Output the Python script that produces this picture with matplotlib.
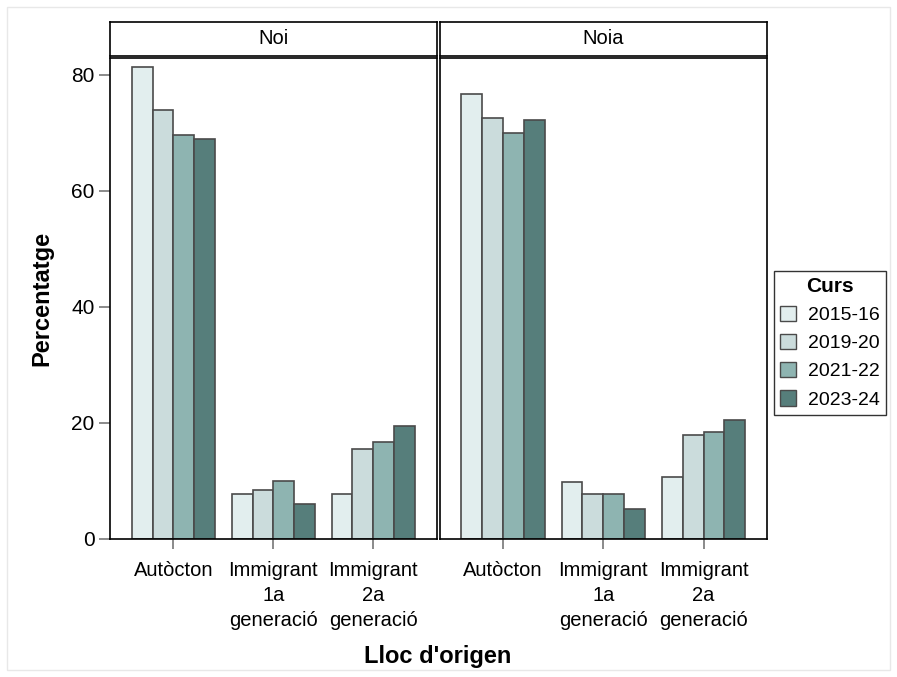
import numpy as np
import matplotlib
matplotlib.use("Agg")
import matplotlib.pyplot as plt
from matplotlib.patches import Patch, Rectangle

plt.rcParams['font.family'] = ['Liberation Sans', 'DejaVu Sans']

# dades
origens = ["Autòcton", "Immigrant\n1a\ngeneració", "Immigrant\n2a\ngeneració"]
cursos = ["2015-16", "2019-20", "2021-22", "2023-24"]
colors = ["#e2eeee", "#cbdcdc", "#8eb4b1", "#567e7b"]

noi = {
    "2015-16": [81.3, 7.7, 7.7],
    "2019-20": [73.9, 8.5, 15.5],
    "2021-22": [69.6, 10.0, 16.8],
    "2023-24": [69.0, 6.1, 19.4],
}
noia = {
    "2015-16": [76.7, 9.8, 10.6],
    "2019-20": [72.6, 7.8, 18.0],
    "2021-22": [69.9, 7.8, 18.4],
    "2023-24": [72.2, 5.1, 20.5],
}

W, H = 897, 677
fig = plt.figure(figsize=(W / 100, H / 100), dpi=100)

# marc gris clar de tota la figura
fig.patches.append(Rectangle((7 / W, 7 / H), (W - 14) / W, (H - 14) / H,
                             transform=fig.transFigure, fill=False,
                             edgecolor="#e8e8e8", linewidth=1))

panels = [("Noi", noi, 110, 436.5), ("Noia", noia, 439.5, 767)]
top, bottom = 58, 539
strip_top, strip_bot = 22, 56
bw = 0.2075
x = np.arange(1, len(origens) + 1)

for k, (titol, dades, px0, px1) in enumerate(panels):
    ax = fig.add_axes([px0 / W, (H - bottom) / H, (px1 - px0) / W, (bottom - top) / H])
    for i, c in enumerate(cursos):
        ax.bar(x + (i - 1.5) * bw, dades[c], width=bw, color=colors[i],
               edgecolor="#4a4a4a", linewidth=1.2, zorder=2)
    ax.set_xlim(0.367, 3.633)
    ax.set_ylim(0, 82.9)
    ax.set_xticks(x)
    ax.set_xticklabels(origens, fontsize=14.5, linespacing=1.4, va="top")
    ax.tick_params(axis="x", length=7, color="#777777", width=1.2, pad=9)
    if k == 0:
        ax.set_yticks([0, 20, 40, 60, 80])
        ax.tick_params(axis="y", length=8, color="#777777", width=1.2, labelsize=15, pad=3)
    else:
        ax.set_yticks([])
    for s in ax.spines.values():
        s.set_linewidth(1.2)
        s.set_color("black")

    sax = fig.add_axes([px0 / W, (H - strip_bot) / H, (px1 - px0) / W, (strip_bot - strip_top) / H])
    sax.set_xticks([])
    sax.set_yticks([])
    for s in sax.spines.values():
        s.set_linewidth(1.2)
    sax.text(0.5, 0.5, titol, ha="center", va="center", fontsize=14.5, transform=sax.transAxes)

fig.text(42 / W, 1 - 298 / H, "Percentatge", rotation=90, ha="center", va="center",
         fontsize=17, fontweight="bold")
fig.text(438 / W, 1 - 657 / H, "Lloc d'origen", ha="center", va="center",
         fontsize=17, fontweight="bold")

handles = [Patch(facecolor=colors[i], edgecolor="#4a4a4a", linewidth=1, label=c)
           for i, c in enumerate(cursos)]
leg = fig.legend(handles=handles, title="Curs", loc="upper left",
                 bbox_to_anchor=(774 / W, 1 - 271 / H), fontsize=14, title_fontsize=15,
                 frameon=True, fancybox=False, edgecolor="black", borderpad=0.3,
                 handlelength=0.85, handleheight=0.85, handletextpad=0.6, labelspacing=0.5,
                 borderaxespad=0)
leg.get_title().set_fontweight("bold")
leg.get_frame().set_linewidth(1.0)

fig.savefig("out.png", dpi=100)
